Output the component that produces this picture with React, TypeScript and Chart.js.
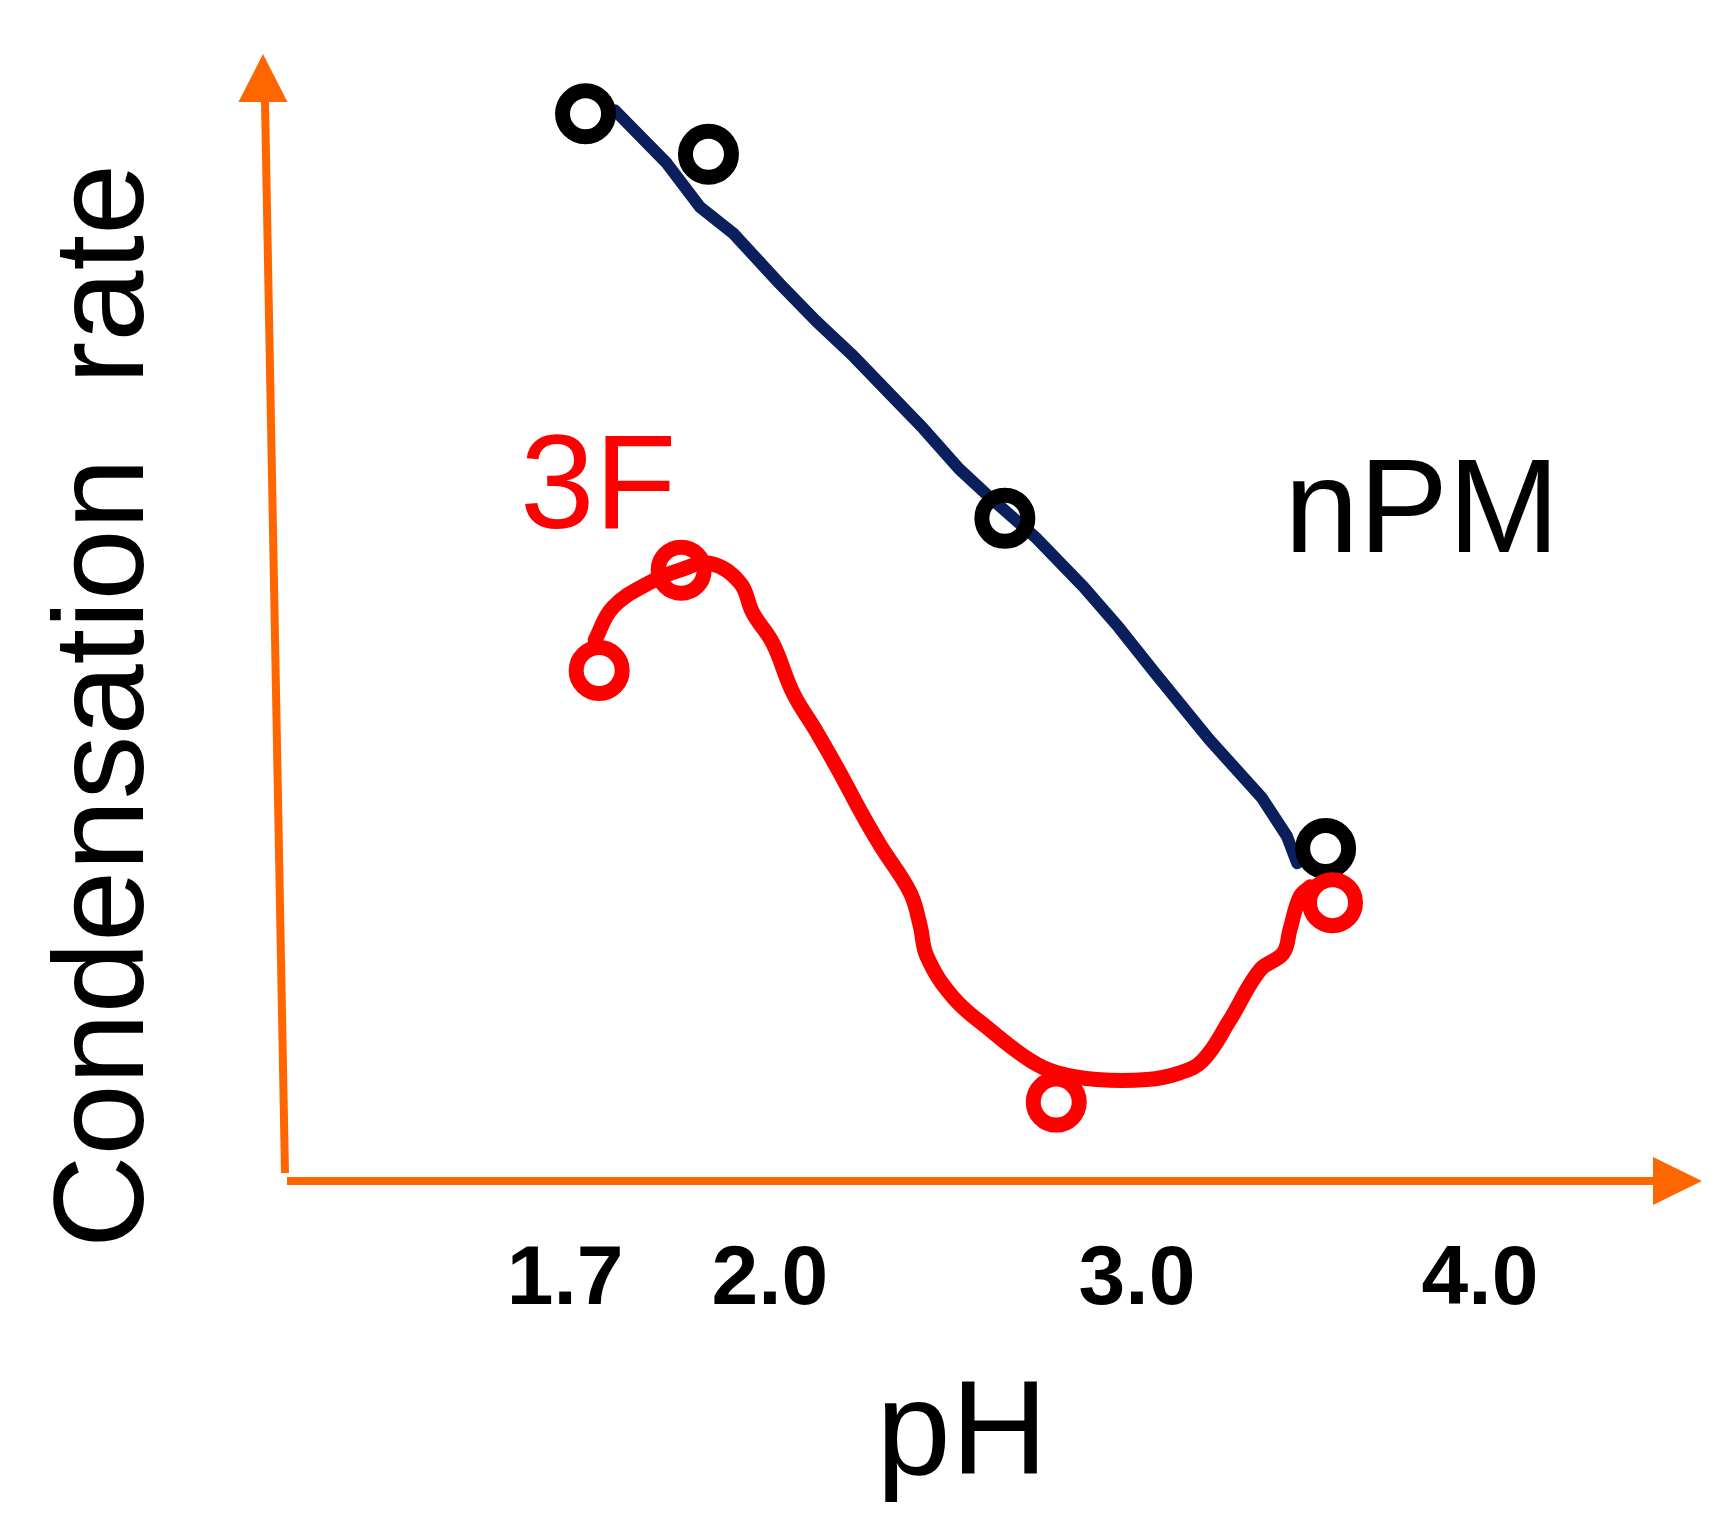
import React, { useEffect, useRef } from 'react';
import { Chart, registerables, LinearScale } from 'chart.js';

// ---------------- data ----------------
const X_TICK_VALUES = [1.7, 2.0, 3.0, 4.0];
const X_TICK_LABELS = ['1.7', '2.0', '3.0', '4.0'];

const NPM_PH = [1.73, 1.91, 2.64, 3.55];
const NPM_RATE = [94.7, 91.1, 58.8, 29.5];

const F3_PH = [1.75, 1.87, 2.78, 3.57];
const F3_RATE = [45.3, 54.2, 7.0, 24.7];

const NPM_TREND_PH = [1.773, 1.849, 1.898, 1.946, 2.027, 2.126, 2.221, 2.319, 2.417, 2.515, 2.591, 2.727, 2.855, 2.951, 3.052, 3.21, 3.364, 3.437, 3.467];
const NPM_TREND_RATE = [95.0, 90.3, 86.4, 84.1, 79.6, 76.3, 73.4, 70.1, 66.8, 63.2, 60.9, 57.0, 52.7, 49.1, 45.1, 39.2, 34.0, 30.6, 28.2];

const F3_TREND_PH = [1.744, 1.77, 1.824, 1.868, 1.912, 1.956, 1.975, 2.008, 2.063, 2.128, 2.191, 2.245, 2.3, 2.382, 2.409, 2.428, 2.499, 2.6, 2.709, 2.782, 2.891, 3.029, 3.125, 3.192, 3.271, 3.358, 3.426, 3.446, 3.475, 3.505];
const F3_TREND_RATE = [48.0, 50.9, 53.1, 54.2, 54.8, 53.1, 50.4, 47.7, 43.3, 39.8, 36.2, 32.9, 29.8, 25.6, 22.7, 19.9, 16.3, 13.4, 10.7, 9.6, 9.0, 9.0, 9.6, 10.7, 14.3, 18.7, 20.2, 22.3, 25.2, 26.1];

const SERIES_LABELS = ['nPM', '3F'];
const X_TITLE = 'pH';
const Y_TITLE_WORDS = ['Condensation', 'rate'];

// ---------------- layout / style ----------------
// where each tick value sits along the (hand-drawn, non-uniform) x axis, as a fraction of its length
const X_KNOT_FRACTIONS = [0.1965, 0.3413, 0.6007, 0.8431];
const ORANGE = '#FF6600';
const NAVY = '#0a1f5c';
const RED = '#FF0000';
const FONT = '"Liberation Sans", Arial, Helvetica, sans-serif';

function segIndex(arr: number[], v: number) {
  if (v <= arr[0]) return 0;
  if (v >= arr[arr.length - 1]) return arr.length - 2;
  let i = 0;
  while (v > arr[i + 1]) i++;
  return i;
}
function phToFraction(v: number) {
  const k = X_TICK_VALUES, f = X_KNOT_FRACTIONS;
  const i = segIndex(k, v);
  return f[i] + ((v - k[i]) * (f[i + 1] - f[i])) / (k[i + 1] - k[i]);
}
function fractionToPh(fr: number) {
  const k = X_TICK_VALUES, f = X_KNOT_FRACTIONS;
  const i = segIndex(f, fr);
  return k[i] + ((fr - f[i]) * (k[i + 1] - k[i])) / (f[i + 1] - f[i]);
}

class SketchScale extends LinearScale {
  static id = 'sketch';
  static defaults = LinearScale.defaults;
  getPixelForValue(value: any) {
    if (value === null || value === undefined || isNaN(value)) return NaN;
    return this.getPixelForDecimal(phToFraction(+value));
  }
  getValueForPixel(pixel: number) {
    return fractionToPh(this.getDecimalForPixel(pixel));
  }
}

Chart.register(...registerables, SketchScale as any);

const zip = (xs: number[], ys: number[]) => xs.map((x, i) => ({ x, y: ys[i] }));

const decorPlugin = {
  id: 'sketchDecor',
  beforeDatasetsDraw(chart: any) {
    const { ctx, chartArea } = chart;
    const { left, top, right, bottom } = chartArea;
    ctx.save();
    ctx.strokeStyle = ORANGE;
    ctx.fillStyle = ORANGE;
    ctx.lineWidth = 8;
    ctx.lineCap = 'butt';
    // y axis (slightly slanted, as drawn)
    ctx.beginPath();
    ctx.moveTo(left - 2, bottom - 8);
    ctx.lineTo(left - 22, top + 48);
    ctx.stroke();
    ctx.beginPath();
    ctx.moveTo(left - 24, top);
    ctx.lineTo(left - 24 - 24.5, top + 48);
    ctx.lineTo(left - 24 + 24.5, top + 48);
    ctx.closePath();
    ctx.fill();
    // x axis
    ctx.beginPath();
    ctx.moveTo(left, bottom);
    ctx.lineTo(right - 49, bottom);
    ctx.stroke();
    ctx.beginPath();
    ctx.moveTo(right, bottom);
    ctx.lineTo(right - 49, bottom - 24);
    ctx.lineTo(right - 49, bottom + 24);
    ctx.closePath();
    ctx.fill();
    ctx.restore();
  },
  afterDatasetsDraw(chart: any) {
    const { ctx, chartArea, scales } = chart;
    const { left, bottom } = chartArea;
    const xs = scales.x, ys = scales.y;
    ctx.save();
    ctx.textBaseline = 'alphabetic';
    // series labels, anchored in data space
    ctx.font = `134px ${FONT}`;
    ctx.textAlign = 'left';
    ctx.fillStyle = RED;
    ctx.fillText(SERIES_LABELS[1], xs.getPixelForValue(1.634), ys.getPixelForValue(57.9));
    ctx.fillStyle = '#000';
    ctx.fillText(SERIES_LABELS[0], xs.getPixelForValue(3.429), ys.getPixelForValue(55.8));
    // x title
    ctx.textAlign = 'center';
    ctx.fillText(X_TITLE, left + 675, bottom + 293);
    // y title, rotated
    ctx.font = `128px ${FONT}`;
    ctx.translate(left - 144, 0);
    ctx.rotate(-Math.PI / 2);
    ctx.textAlign = 'center';
    ctx.fillText(Y_TITLE_WORDS[0], -853, 0);
    ctx.fillText(Y_TITLE_WORDS[1], -274, 0);
    ctx.restore();
  },
};

export default function App() {
  const ref = useRef<HTMLCanvasElement | null>(null);
  useEffect(() => {
    document.body.style.margin = '0';
    const canvas = ref.current;
    if (!canvas) return;
    const chart = new Chart(canvas, {
      type: 'line',
      data: {
        datasets: [
          {
            label: SERIES_LABELS[1] + ' points',
            data: zip(F3_PH, F3_RATE),
            showLine: false,
            order: 0,
            pointStyle: 'circle',
            pointRadius: 23,
            pointHoverRadius: 23,
            pointBorderWidth: 15,
            pointHoverBorderWidth: 15,
            pointBorderColor: RED,
            pointBackgroundColor: 'rgba(0,0,0,0)',
            borderColor: RED,
          },
          {
            label: SERIES_LABELS[0] + ' points',
            data: zip(NPM_PH, NPM_RATE),
            showLine: false,
            order: 1,
            pointStyle: 'circle',
            pointRadius: 23,
            pointHoverRadius: 23,
            pointBorderWidth: 15,
            pointHoverBorderWidth: 15,
            pointBorderColor: '#000',
            pointBackgroundColor: 'rgba(0,0,0,0)',
            borderColor: '#000',
          },
          {
            label: SERIES_LABELS[0] + ' trend',
            data: zip(NPM_TREND_PH, NPM_TREND_RATE),
            order: 2,
            borderColor: NAVY,
            borderWidth: 12,
            borderCapStyle: 'round',
            borderJoinStyle: 'round',
            pointRadius: 0,
            tension: 0,
            fill: false,
          },
          {
            label: SERIES_LABELS[1] + ' trend',
            data: zip(F3_TREND_PH, F3_TREND_RATE),
            order: 3,
            borderColor: RED,
            borderWidth: 15,
            borderCapStyle: 'round',
            borderJoinStyle: 'round',
            pointRadius: 0,
            tension: 0.4,
            fill: false,
          },
        ],
      },
      options: {
        animation: false,
        responsive: false,
        devicePixelRatio: 1,
        events: [],
        clip: false as any,
        layout: { autoPadding: false, padding: { left: 287, top: 54, right: 26, bottom: 148.2 } },
        plugins: { legend: { display: false }, tooltip: { enabled: false } },
        scales: {
          x: {
            type: 'sketch' as any,
            min: fractionToPh(0),
            max: fractionToPh(1),
            grid: { display: false, drawTicks: false },
            border: { display: false },
            afterBuildTicks: (scale: any) => {
              scale.ticks = X_TICK_VALUES.map((v) => ({ value: v }));
            },
            afterFit: (scale: any) => {
              scale.paddingLeft = 0;
              scale.paddingRight = 0;
            },
            ticks: {
              autoSkip: false,
              maxRotation: 0,
              padding: 49,
              color: '#000',
              font: { family: FONT, size: 84, weight: 'bold' },
              callback: (_v: any, i: number) => X_TICK_LABELS[i],
            },
          } as any,
          y: {
            type: 'linear',
            display: false,
            min: 0,
            max: 100,
          },
        },
      },
      plugins: [decorPlugin as any],
    } as any);
    return () => chart.destroy();
  }, []);
  return (
    <div style={{ width: 1728, height: 1528, background: '#fff' }}>
      <canvas ref={ref} width={1728} height={1528} style={{ display: 'block', width: 1728, height: 1528 }} />
    </div>
  );
}
